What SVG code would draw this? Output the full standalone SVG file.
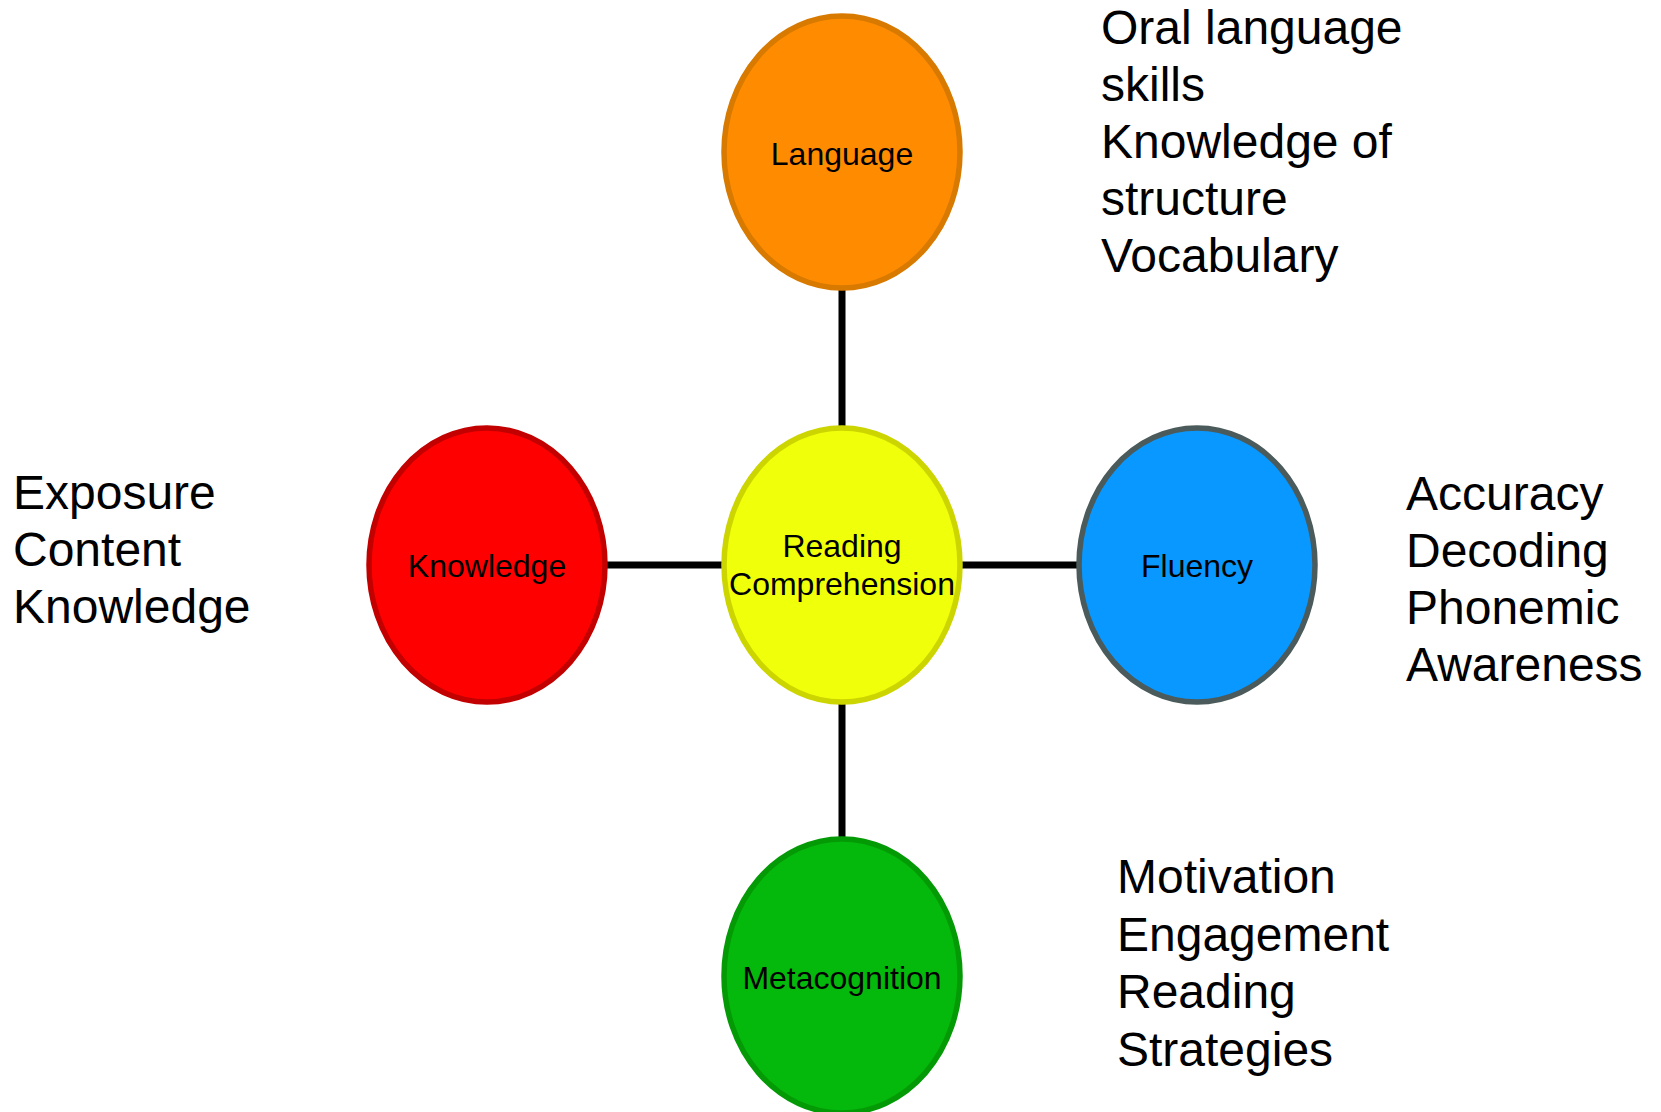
<svg xmlns="http://www.w3.org/2000/svg" width="1661" height="1112" viewBox="0 0 1661 1112">
  <style>
    .node { stroke-width: 5.5; }
    .label { font-family: "Liberation Sans", Arial, sans-serif; font-size: 32px; fill: #000; text-anchor: middle; }
    .note { font-family: "Liberation Sans", Arial, sans-serif; font-size: 48px; fill: #000; }
    .link { stroke: #000; stroke-width: 7; fill: none; }
  </style>
  <rect width="1661" height="1112" fill="#ffffff"/>

  <!-- connectors: spokes from the hub to each factor -->
  <g id="connectors">
    <line class="link" x1="842" y1="152" x2="842" y2="565"/>
    <line class="link" x1="842" y1="565" x2="842" y2="976"/>
    <line class="link" x1="487" y1="565" x2="842" y2="565"/>
    <line class="link" x1="842" y1="565" x2="1197" y2="565"/>
  </g>

  <g id="node-language">
    <ellipse class="node" cx="842" cy="152" rx="118" ry="136" fill="#FF8C00" stroke="#D87900"/>
    <text class="label" x="842" y="165">Language</text>
  </g>

  <g id="node-reading-comprehension">
    <ellipse class="node" cx="842" cy="565" rx="118" ry="137" fill="#F0FF0A" stroke="#CCD500"/>
    <text class="label" x="842" y="557">Reading</text>
    <text class="label" x="842" y="595">Comprehension</text>
  </g>

  <g id="node-knowledge">
    <ellipse class="node" cx="487" cy="565" rx="118" ry="137" fill="#FF0000" stroke="#C20000"/>
    <text class="label" x="487" y="577">Knowledge</text>
  </g>

  <g id="node-fluency">
    <ellipse class="node" cx="1197" cy="565" rx="118" ry="137" fill="#0898FF" stroke="#4B5A5A"/>
    <text class="label" x="1197" y="577">Fluency</text>
  </g>

  <g id="node-metacognition">
    <ellipse class="node" cx="842" cy="976" rx="118" ry="137" fill="#05B80C" stroke="#049A06"/>
    <text class="label" x="842" y="989">Metacognition</text>
  </g>

  <!-- factor descriptions -->
  <g id="notes-language">
    <text class="note">
      <tspan x="1101" y="44">Oral language</tspan>
      <tspan x="1101" y="101">skills</tspan>
      <tspan x="1101" y="158">Knowledge of</tspan>
      <tspan x="1101" y="215">structure</tspan>
      <tspan x="1101" y="272">Vocabulary</tspan>
    </text>
  </g>

  <g id="notes-knowledge">
    <text class="note">
      <tspan x="13" y="509">Exposure</tspan>
      <tspan x="13" y="566">Content</tspan>
      <tspan x="13" y="623">Knowledge</tspan>
    </text>
  </g>

  <g id="notes-fluency">
    <text class="note">
      <tspan x="1406" y="509.5">Accuracy</tspan>
      <tspan x="1406" y="566.5">Decoding</tspan>
      <tspan x="1406" y="623.5">Phonemic</tspan>
      <tspan x="1406" y="680.5">Awareness</tspan>
    </text>
  </g>

  <g id="notes-metacognition">
    <text class="note">
      <tspan x="1117" y="893">Motivation</tspan>
      <tspan x="1117" y="950.5">Engagement</tspan>
      <tspan x="1117" y="1008">Reading</tspan>
      <tspan x="1117" y="1065.5">Strategies</tspan>
    </text>
  </g>
</svg>
